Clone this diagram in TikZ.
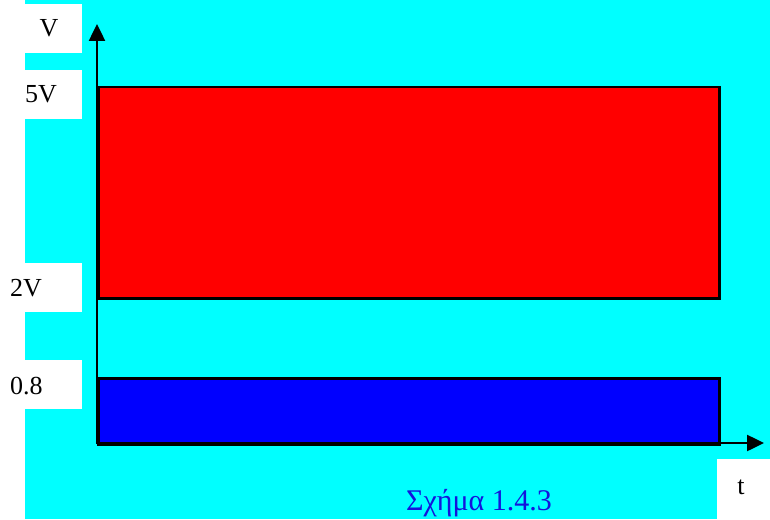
\documentclass[tikz,border=0pt]{standalone}
\usepackage{fontspec}
\setmainfont{Liberation Serif}
\usetikzlibrary{arrows.meta}
\definecolor{bgcyan}{RGB}{0,255,255}
\definecolor{capblue}{RGB}{20,20,220}
\begin{document}
\begin{tikzpicture}[x=1pt,y=-1pt,
  lbl/.style={inner sep=0pt,font=\fontsize{26}{26}\selectfont},
  band/.style={draw=black,line width=2.5pt},
  axis/.style={line width=2.5pt,-{Triangle[length=17pt,width=16pt]}}]
\useasboundingbox (0,0) rectangle (770,519);
\fill[white] (0,0) rectangle (770,519);
\fill[bgcyan] (25,0) rectangle (770,519);
\fill[white] (0,4) rectangle (82,53);
\fill[white] (0,70) rectangle (82,119);
\fill[white] (0,263) rectangle (82,312);
\fill[white] (0,360) rectangle (82,409);
\fill[white] (717,459) rectangle (770,519);
\node[band,fill=red,minimum width=621pt,minimum height=211.5pt,inner sep=0pt,anchor=north west] (hi) at (97,85.5) {};
\node[band,fill=blue,minimum width=621pt,minimum height=66pt,inner sep=0pt,anchor=north west] (lo) at (97,377) {};
\coordinate (o) at (97,443);
\coordinate (ox) at (95.8,443);
\coordinate (ytip) at (97,24);
\coordinate (xtip) at (764,443);
\draw[axis] (o) -- (ytip);
\draw[axis] (ox) -- (xtip);
\node[lbl] (lv) at (49,28) {V};
\node[lbl,anchor=west] (l5) at (25,94.5) {5V};
\node[lbl,anchor=west] (l2) at (10,288) {2V};
\node[lbl,anchor=west] (l08) at (10,386) {0.8};
\node[lbl] (lt) at (741,487) {t};
\node[inner sep=0pt,font=\fontsize{30}{30}\selectfont,text=capblue] (cap) at (479,503) {Σχήμα 1.4.3};
\end{tikzpicture}
\end{document}
